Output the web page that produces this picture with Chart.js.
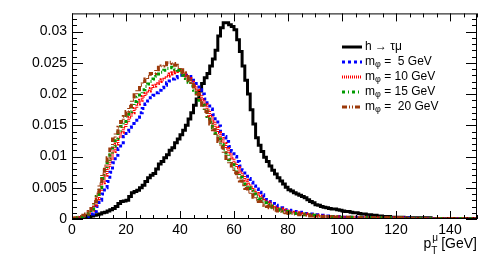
<!DOCTYPE html>
<html>
<head>
<meta charset="utf-8">
<script src="https://cdn.jsdelivr.net/npm/chart.js@4"></script>
<style>
  body { margin: 0; background: #fff; }
  #wrap { width: 498px; height: 259px; }
</style>
</head>
<body>
<div id="wrap"><canvas id="ptChart" width="498" height="259"></canvas></div>
<script>
// bin edges: 1 GeV bins from 0 to 150
const binLow = 0;
const binWidth = 1;
const xTicks = [0, 20, 40, 60, 80, 100, 120, 140];
const yTicks = [0, 0.005, 0.01, 0.015, 0.02, 0.025, 0.03];

const seriesNames = ["h \u2192 \u03c4\u03bc", "m_\u03c6 =  5 GeV", "m_\u03c6 = 10 GeV", "m_\u03c6 = 15 GeV", "m_\u03c6 =  20 GeV"];

const hTauMu = [
  0, 0, 0.0001, 0.0001, 0.0002, 0.0003, 0.0003, 0.0004, 0.0005, 0.0006,
  0.0007, 0.0008, 0.0010, 0.0011, 0.0013, 0.0015, 0.0017, 0.0020, 0.0025, 0.0028,
  0.0029, 0.0030, 0.0036, 0.0042, 0.0044, 0.0046, 0.0050, 0.0054, 0.0060, 0.0066,
  0.0070, 0.0073, 0.0080, 0.0088, 0.0092, 0.0098, 0.0103, 0.0110, 0.0114, 0.0122,
  0.0128, 0.0135, 0.0142, 0.0150, 0.0160, 0.0170, 0.0182, 0.0192, 0.0205, 0.0217,
  0.0226, 0.0233, 0.0245, 0.0256, 0.0270, 0.0293, 0.0306, 0.0314, 0.0314, 0.0311,
  0.0308, 0.0303, 0.0287, 0.0268, 0.0245, 0.0222, 0.0200, 0.0175, 0.0152, 0.0130,
  0.0118, 0.0108, 0.0099, 0.0092, 0.0085, 0.0078, 0.0072, 0.0066, 0.0061, 0.0056,
  0.0051, 0.0047, 0.0045, 0.0042, 0.0040, 0.0038, 0.0036, 0.0034, 0.0031, 0.0028,
  0.0026, 0.0023, 0.0022, 0.0020, 0.0019, 0.0018, 0.0017, 0.0016, 0.0016, 0.0015,
  0.0014, 0.0013, 0.0012, 0.0012, 0.0011, 0.0010, 0.0010, 0.0009, 0.0008, 0.0008,
  0.0007, 0.0007, 0.0006, 0.0006, 0.0005, 0.0005, 0.0004, 0.0004, 0.0004, 0.0003,
  0.0003, 0.0003, 0.0003, 0.0003, 0.0002, 0.0002, 0.0002, 0.0002, 0.0002, 0.0002,
  0.0002, 0.0002, 0.0001, 0.0002, 0.0001, 0.0001, 0.0001, 0.0001, 0.0001, 0.0001,
  0.0001, 0.0001, 0.0001, 0.0001, 0.0001, 0.0001, 0.0001, 0.0001, 0.0001, 0.0001
];

const mPhi5 = [
  0, 0, 0.0001, 0.0001, 0.0002, 0.0003, 0.0004, 0.0006, 0.0008, 0.0012,
  0.0020, 0.0030, 0.0040, 0.0050, 0.0060, 0.0075, 0.0090, 0.0102, 0.0113, 0.0122,
  0.0132, 0.0140, 0.0147, 0.0153, 0.0158, 0.0163, 0.0170, 0.0177, 0.0184, 0.0189,
  0.0194, 0.0198, 0.0202, 0.0206, 0.0210, 0.0214, 0.0218, 0.0221, 0.0224, 0.0226,
  0.0228, 0.0230, 0.0231, 0.0230, 0.0228, 0.0225, 0.0221, 0.0214, 0.0207, 0.0200,
  0.0192, 0.0184, 0.0176, 0.0167, 0.0158, 0.0149, 0.0140, 0.0132, 0.0124, 0.0116,
  0.0108, 0.0100, 0.0092, 0.0085, 0.0078, 0.0071, 0.0065, 0.0059, 0.0053, 0.0048,
  0.0043, 0.0039, 0.0035, 0.0031, 0.0028, 0.0025, 0.0022, 0.0020, 0.0018, 0.0017,
  0.0015, 0.0014, 0.0013, 0.0012, 0.0011, 0.0011, 0.0010, 0.0009, 0.0009, 0.0008,
  0.0007, 0.0007, 0.0006, 0.0006, 0.0005, 0.0005, 0.0004, 0.0004, 0.0004, 0.0004,
  0.0004, 0.0003, 0.0003, 0.0003, 0.0003, 0.0003, 0.0003, 0.0003, 0.0003, 0.0003,
  0.0003, 0.0002, 0.0002, 0.0002, 0.0002, 0.0002, 0.0002, 0.0002, 0.0002, 0.0002,
  0.0002, 0.0002, 0.0002, 0.0002, 0.0002, 0.0002, 0.0001, 0.0001, 0.0001, 0.0001,
  0.0001, 0.0001, 0.0001, 0.0001, 0.0001, 0.0001, 0.0001, 0.0001, 0.0001, 0.0001,
  0.0001, 0.0001, 0.0001, 0.0001, 0.0001, 0.0001, 0.0001, 0.0001, 0.0001, 0.0001
];

const mPhi10 = [
  0, 0.0001, 0.0001, 0.0002, 0.0003, 0.0004, 0.0006, 0.0010, 0.0014, 0.0022,
  0.0032, 0.0045, 0.0058, 0.0070, 0.0082, 0.0095, 0.0108, 0.0120, 0.0130, 0.0139,
  0.0147, 0.0155, 0.0163, 0.0170, 0.0177, 0.0184, 0.0190, 0.0196, 0.0201, 0.0205,
  0.0209, 0.0213, 0.0217, 0.0220, 0.0223, 0.0226, 0.0229, 0.0232, 0.0234, 0.0236,
  0.0237, 0.0235, 0.0233, 0.0229, 0.0225, 0.0219, 0.0213, 0.0206, 0.0199, 0.0191,
  0.0183, 0.0174, 0.0165, 0.0156, 0.0147, 0.0138, 0.0129, 0.0121, 0.0113, 0.0105,
  0.0097, 0.0089, 0.0082, 0.0075, 0.0069, 0.0062, 0.0056, 0.0051, 0.0046, 0.0041,
  0.0037, 0.0033, 0.0030, 0.0027, 0.0024, 0.0021, 0.0019, 0.0017, 0.0016, 0.0014,
  0.0013, 0.0012, 0.0011, 0.0010, 0.0010, 0.0009, 0.0008, 0.0008, 0.0007, 0.0007,
  0.0006, 0.0006, 0.0005, 0.0005, 0.0004, 0.0004, 0.0004, 0.0004, 0.0004, 0.0004,
  0.0003, 0.0003, 0.0003, 0.0003, 0.0003, 0.0003, 0.0003, 0.0003, 0.0003, 0.0003,
  0.0003, 0.0002, 0.0002, 0.0002, 0.0002, 0.0002, 0.0002, 0.0002, 0.0002, 0.0002,
  0.0002, 0.0002, 0.0002, 0.0002, 0.0002, 0.0001, 0.0001, 0.0001, 0.0001, 0.0001,
  0.0001, 0.0001, 0.0001, 0.0001, 0.0001, 0.0001, 0.0001, 0.0001, 0.0001, 0.0001,
  0.0001, 0.0001, 0.0001, 0.0001, 0.0001, 0.0001, 0.0001, 0.0001, 0.0001, 0.0001
];

const mPhi15 = [
  0, 0.0001, 0.0001, 0.0002, 0.0003, 0.0005, 0.0007, 0.0011, 0.0016, 0.0025,
  0.0036, 0.0050, 0.0065, 0.0078, 0.0090, 0.0103, 0.0117, 0.0129, 0.0139, 0.0148,
  0.0156, 0.0164, 0.0172, 0.0180, 0.0188, 0.0195, 0.0201, 0.0207, 0.0212, 0.0216,
  0.0220, 0.0224, 0.0228, 0.0232, 0.0235, 0.0238, 0.0241, 0.0243, 0.0242, 0.0240,
  0.0238, 0.0234, 0.0230, 0.0225, 0.0219, 0.0213, 0.0206, 0.0198, 0.0190, 0.0182,
  0.0173, 0.0164, 0.0155, 0.0146, 0.0137, 0.0128, 0.0119, 0.0111, 0.0103, 0.0095,
  0.0087, 0.0080, 0.0073, 0.0067, 0.0061, 0.0055, 0.0050, 0.0045, 0.0040, 0.0036,
  0.0032, 0.0029, 0.0026, 0.0023, 0.0021, 0.0019, 0.0017, 0.0015, 0.0014, 0.0013,
  0.0012, 0.0011, 0.0010, 0.0009, 0.0009, 0.0008, 0.0008, 0.0007, 0.0007, 0.0006,
  0.0006, 0.0005, 0.0005, 0.0004, 0.0004, 0.0004, 0.0004, 0.0004, 0.0004, 0.0004,
  0.0003, 0.0003, 0.0003, 0.0003, 0.0003, 0.0003, 0.0003, 0.0003, 0.0003, 0.0003,
  0.0002, 0.0002, 0.0002, 0.0002, 0.0002, 0.0002, 0.0002, 0.0002, 0.0002, 0.0002,
  0.0002, 0.0002, 0.0002, 0.0002, 0.0001, 0.0001, 0.0001, 0.0001, 0.0001, 0.0001,
  0.0001, 0.0001, 0.0001, 0.0001, 0.0001, 0.0001, 0.0001, 0.0001, 0.0001, 0.0001,
  0.0001, 0.0001, 0.0001, 0.0001, 0.0001, 0.0001, 0.0001, 0.0001, 0.0001, 0.0001
];

const mPhi20 = [
  0.0001, 0.0001, 0.0002, 0.0003, 0.0004, 0.0006, 0.0008, 0.0012, 0.0017, 0.0028,
  0.0040, 0.0056, 0.0072, 0.0085, 0.0098, 0.0112, 0.0128, 0.0138, 0.0147, 0.0156,
  0.0164, 0.0172, 0.0180, 0.0190, 0.0199, 0.0207, 0.0214, 0.0220, 0.0224, 0.0228,
  0.0233, 0.0233, 0.0239, 0.0243, 0.0245, 0.0247, 0.0250, 0.0251, 0.0249, 0.0246,
  0.0243, 0.0239, 0.0234, 0.0228, 0.0222, 0.0215, 0.0208, 0.0200, 0.0191, 0.0182,
  0.0172, 0.0162, 0.0152, 0.0143, 0.0134, 0.0124, 0.0115, 0.0106, 0.0097, 0.0089,
  0.0081, 0.0074, 0.0067, 0.0061, 0.0055, 0.0049, 0.0044, 0.0039, 0.0035, 0.0031,
  0.0028, 0.0025, 0.0022, 0.0020, 0.0018, 0.0016, 0.0014, 0.0013, 0.0012, 0.0011,
  0.0010, 0.0009, 0.0009, 0.0008, 0.0008, 0.0007, 0.0007, 0.0006, 0.0006, 0.0005,
  0.0005, 0.0004, 0.0004, 0.0004, 0.0004, 0.0004, 0.0004, 0.0003, 0.0003, 0.0003,
  0.0003, 0.0003, 0.0003, 0.0003, 0.0003, 0.0003, 0.0003, 0.0002, 0.0002, 0.0002,
  0.0002, 0.0002, 0.0002, 0.0002, 0.0002, 0.0002, 0.0002, 0.0002, 0.0002, 0.0002,
  0.0002, 0.0002, 0.0002, 0.0001, 0.0001, 0.0001, 0.0001, 0.0001, 0.0001, 0.0001,
  0.0001, 0.0001, 0.0001, 0.0001, 0.0001, 0.0001, 0.0001, 0.0001, 0.0001, 0.0001,
  0.0001, 0.0001, 0.0001, 0.0001, 0.0001, 0.0001, 0.0001, 0.0001, 0.0001, 0.0001
];

const FONT = "'Liberation Sans', Arial, Helvetica, sans-serif";

// turn bin contents into step points (left edges + closing right edge)
function toSteps(vals) {
  const pts = vals.map((v, i) => ({ x: binLow + i * binWidth, y: v }));
  pts.push({ x: binLow + vals.length * binWidth, y: vals[vals.length - 1] });
  return pts;
}

function histo(label, vals, color, dash, order) {
  return {
    label: label,
    data: toSteps(vals),
    borderColor: color,
    borderWidth: 3,
    borderDash: dash,
    stepped: "after",
    fill: false,
    pointRadius: 0,
    order: order
  };
}

// draw text, "_x" puts x as a subscript
function drawRich(ctx, text, x, y, size) {
  let i = 0;
  while (i < text.length) {
    if (text[i] === "_") {
      ctx.font = Math.round(size * 0.75) + "px " + FONT;
      ctx.fillText(text[i + 1], x, y + 3);
      x += ctx.measureText(text[i + 1]).width;
      i += 2;
    } else {
      let j = text.indexOf("_", i);
      if (j < 0) j = text.length;
      const part = text.slice(i, j);
      ctx.font = size + "px " + FONT;
      ctx.fillText(part, x, y);
      x += ctx.measureText(part).width;
      i = j;
    }
  }
}

// ROOT-like frame with ticks on all four sides
const framePlugin = {
  id: "frame",
  afterDraw(chart) {
    const ctx = chart.ctx;
    const ca = chart.chartArea;
    const xs = chart.scales.x;
    const ys = chart.scales.y;
    ctx.save();
    ctx.strokeStyle = "#000";
    ctx.lineWidth = 1;
    ctx.strokeRect(ca.left + 0.5, ca.top + 0.5, ca.right - ca.left - 1, ca.bottom - ca.top - 1);
    ctx.beginPath();
    for (let v = 0; v <= 150; v += 5) {
      const px = Math.round(xs.getPixelForValue(v)) + 0.5;
      const len = v % 20 === 0 ? 8 : 4;
      ctx.moveTo(px, ca.bottom);
      ctx.lineTo(px, ca.bottom - len);
      ctx.moveTo(px, ca.top);
      ctx.lineTo(px, ca.top + len);
    }
    for (let k = 0; k <= 32; k++) {
      const py = Math.round(ys.getPixelForValue(k * 0.001)) + 0.5;
      const len = k % 5 === 0 ? 11 : 5;
      ctx.moveTo(ca.left, py);
      ctx.lineTo(ca.left + len, py);
      ctx.moveTo(ca.right, py);
      ctx.lineTo(ca.right - len, py);
    }
    ctx.stroke();

    // x axis title
    ctx.fillStyle = "#000";
    ctx.textBaseline = "alphabetic";
    ctx.textAlign = "left";
    ctx.font = "14px " + FONT;
    const tail = " [GeV]";
    const wTail = ctx.measureText(tail).width;
    const wP = ctx.measureText("p").width;
    ctx.font = "10px " + FONT;
    const wSup = Math.max(ctx.measureText("\u03bc").width, ctx.measureText("T").width);
    let x0 = ca.right - wTail - wSup - wP;
    const base = 248;
    ctx.font = "14px " + FONT;
    ctx.fillText("p", x0, base);
    ctx.font = "10px " + FONT;
    ctx.fillText("\u03bc", x0 + wP + 1, base - 7);
    ctx.fillText("T", x0 + wP, base + 6);
    ctx.font = "14px " + FONT;
    ctx.fillText(tail, x0 + wP + wSup, base);
    ctx.restore();
  }
};

// legend with subscripts
const legendPlugin = {
  id: "phiLegend",
  afterDraw(chart) {
    const ctx = chart.ctx;
    ctx.save();
    const x0 = 342, x1 = 362, tx = 365;
    let y = 47;
    seriesNames.forEach((name, i) => {
      const ds = chart.data.datasets[i];
      ctx.strokeStyle = ds.borderColor;
      ctx.lineWidth = 3;
      ctx.setLineDash(ds.borderDash || []);
      ctx.beginPath();
      ctx.moveTo(x0, y);
      ctx.lineTo(x1, y);
      ctx.stroke();
      ctx.setLineDash([]);
      ctx.fillStyle = "#000";
      ctx.textBaseline = "middle";
      ctx.textAlign = "left";
      drawRich(ctx, name, tx, y, 12);
      y += 15;
    });
    ctx.restore();
  }
};

const ctx = document.getElementById("ptChart").getContext("2d");

const config = {
  type: "line",
  data: {
    datasets: [
      histo(seriesNames[0], hTauMu, "#000000", [], 4),
      histo(seriesNames[1], mPhi5, "#0000ff", [3, 3], 3),
      histo(seriesNames[2], mPhi10, "#ff0000", [1, 1], 2),
      histo(seriesNames[3], mPhi15, "#009a00", [3, 3, 1, 3], 1),
      histo(seriesNames[4], mPhi20, "#9c3a0a", [5, 2, 1, 2, 1, 2], 0)
    ]
  },
  options: {
    responsive: false,
    animation: false,
    layout: { padding: { top: 6, right: 21, left: 0, bottom: 0 } },
    plugins: {
      legend: { display: false },
      tooltip: { enabled: false }
    },
    scales: {
      x: {
        type: "linear",
        min: 0,
        max: 150,
        afterBuildTicks: (s) => { s.ticks = xTicks.map((v) => ({ value: v })); },
        afterFit: (s) => { s.height = 40; },
        grid: { display: false, drawTicks: false },
        border: { display: false },
        ticks: {
          color: "#000",
          font: { family: FONT, size: 14 },
          padding: 3,
          maxRotation: 0,
          autoSkip: false
        }
      },
      y: {
        min: 0,
        max: 0.0329,
        afterBuildTicks: (s) => { s.ticks = yTicks.map((v) => ({ value: v })); },
        afterFit: (s) => { s.width = 72; },
        grid: { display: false, drawTicks: false },
        border: { display: false },
        ticks: {
          color: "#000",
          font: { family: FONT, size: 14 },
          padding: 5,
          callback: (v) => String(+v.toFixed(4))
        }
      }
    }
  },
  plugins: [framePlugin, legendPlugin]
};

const ptChart = new Chart(ctx, config);
</script>
</body>
</html>
